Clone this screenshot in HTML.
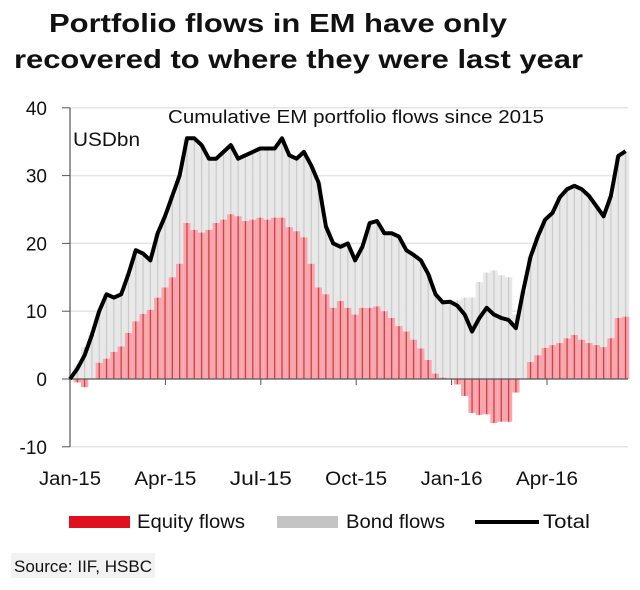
<!DOCTYPE html>
<html><head><meta charset="utf-8"><style>
body{margin:0;background:#fff;}
svg text{font-family:"Liberation Sans",Arial,sans-serif;fill:#111;}
</style></head><body>
<svg id="chart" width="640" height="585" viewBox="0 0 640 585" xmlns="http://www.w3.org/2000/svg">
<text x="49" y="32" font-size="26" font-weight="bold" textLength="458" lengthAdjust="spacingAndGlyphs">Portfolio flows in EM have only</text>
<text x="14" y="68" font-size="26" font-weight="bold" textLength="569" lengthAdjust="spacingAndGlyphs">recovered to where they were last year</text>
<g id="grid"></g>
<g id="bars"></g>
<g id="axes"></g>
<path id="totalLine" fill="none" stroke="#000" stroke-width="4" stroke-linejoin="round"/>
<text x="168" y="123" font-size="18" textLength="376" lengthAdjust="spacingAndGlyphs">Cumulative EM portfolio flows since 2015</text>
<text x="73" y="146" font-size="19" textLength="67" lengthAdjust="spacingAndGlyphs">USDbn</text>
<g>
<rect x="69" y="516" width="61" height="12" fill="#e0101e"/>
<text x="137" y="528" font-size="19" textLength="108" lengthAdjust="spacingAndGlyphs">Equity flows</text>
<rect x="277" y="516" width="61" height="12" fill="#c4c4c4"/>
<text x="346" y="528" font-size="19" textLength="99" lengthAdjust="spacingAndGlyphs">Bond flows</text>
<line x1="475" y1="522" x2="539" y2="522" stroke="#000" stroke-width="4"/>
<text x="543" y="528" font-size="19" textLength="47" lengthAdjust="spacingAndGlyphs">Total</text>
</g>
<rect x="11" y="553" width="144" height="25" fill="#f2f2f2"/>
<text x="14" y="572" font-size="17" textLength="138" lengthAdjust="spacingAndGlyphs">Source: IIF, HSBC</text>
</svg>
<script>
const total=[0,1.5,3.5,6.5,10,12.5,12,12.5,15.5,19,18.5,17.5,21.5,24,27,30,35.5,35.5,34.5,32.5,32.5,33.5,34.5,32.5,33,33.5,34,34,34,35.5,33,32.5,33.5,31.5,29,22.5,20,19.5,20,17.5,19.5,23,23.3,21.5,21.5,21,19,18.3,17.5,15.5,12.5,11.3,11.4,10.8,9.5,7,9,10.5,9.5,9,8.7,7.5,13,18,21,23.5,24.5,26.8,28,28.5,28,27,25.5,24,27,32.9,33.6];
const equity=[0,-0.5,-1.2,0,2.4,3,4,4.8,6.8,8.5,9.6,10.2,12,13.5,15,17,23,22,21.6,22,23,23.5,24.3,24,23.3,23.5,23.8,23.5,23.8,23.8,22.4,21.8,20.9,17,13.5,12.5,10.5,11.5,10.5,9.5,10.5,10.5,10.7,10,9,7.8,7,5.8,4.5,2.8,0.8,0.2,0,-0.8,-2.5,-5,-5.3,-5.2,-6.5,-6.3,-6.3,-2,0,2.5,3.5,4.6,5,5.3,6,6.5,5.8,5.3,5,4.7,6,9,9.2];
const yTicks=[40,30,20,10,0,-10];
const xLabels=["Jan-15","Apr-15","Jul-15","Oct-15","Jan-16","Apr-16"];
const NS="http://www.w3.org/2000/svg";
const x0=70,wStep=7.31,monthPx=31.8;
const xW=w=>x0+w*wStep;
const y=v=>379-v*6.78;
function mk(tag,attrs,parent){const e=document.createElementNS(NS,tag);for(const k in attrs)e.setAttribute(k,attrs[k]);parent.appendChild(e);return e;}
const grid=document.getElementById('grid'),bars=document.getElementById('bars'),axes=document.getElementById('axes');
yTicks.forEach(t=>{
  if(t!==0){const g=mk('line',{x1:x0,x2:628,y1:y(t),y2:y(t),stroke:'#e4e4e4','stroke-width':1.5},grid);
  
  }
  const tk=mk('line',{x1:x0-8,x2:x0,y1:y(t),y2:y(t),stroke:'#555'},axes);
  
  
  const tx=mk('text',{x:47,y:y(t)+7,'text-anchor':'end','font-size':19},axes);tx.textContent=t;
  
  
});
total.forEach((tv,i)=>{
  const eq=equity[i],bond=tv-eq;
  const cx=xW(i)-wStep/2,w=wStep;
  let gb,gt;
  if(eq>=0){gb=eq;gt=tv;}else{gb=0;gt=bond;}
  const g=mk('rect',{x:cx,width:w,y:y(Math.max(gb,gt)),height:Math.abs(y(gb)-y(gt)),fill:'#e8e8e8'},bars);
  
  
  const gl=mk('line',{x1:cx+w/2,x2:cx+w/2,y1:y(gb),y2:y(gt),stroke:'#cacaca','stroke-width':1.2},bars);
  
  
  const r=mk('rect',{x:cx,width:w,y:y(Math.max(0,eq)),height:Math.abs(y(eq)-y(0)),fill:'#f4a7ac'},bars);
  
  
  const rl=mk('line',{x1:cx+w/2,x2:cx+w/2,y1:y(0),y2:y(eq),stroke:'#dc3a45','stroke-width':1.3},bars);
  
  
});
const ax=mk('line',{x1:x0,x2:x0,y1:y(40),y2:y(-10),stroke:'#555','stroke-width':1.2},axes);


const zl=mk('line',{x1:x0,x2:628,y1:y(0),y2:y(0),stroke:'#555','stroke-width':1.2},axes);


xLabels.forEach((l,i)=>{
  const px=x0+i*3*monthPx;
  const tk=mk('line',{x1:px,x2:px,y1:y(0),y2:y(0)+6,stroke:'#555'},axes);
  
  
  const t=mk('text',{x:px,y:485,'text-anchor':'middle','font-size':19,textLength:62,lengthAdjust:'spacingAndGlyphs'},axes);t.textContent=l;
  
  
});
document.getElementById('totalLine').setAttribute('d',total.map((v,i)=>(i?'L':'M')+xW(i).toFixed(1)+','+y(v).toFixed(1)).join(''));
</script>
</body></html>
